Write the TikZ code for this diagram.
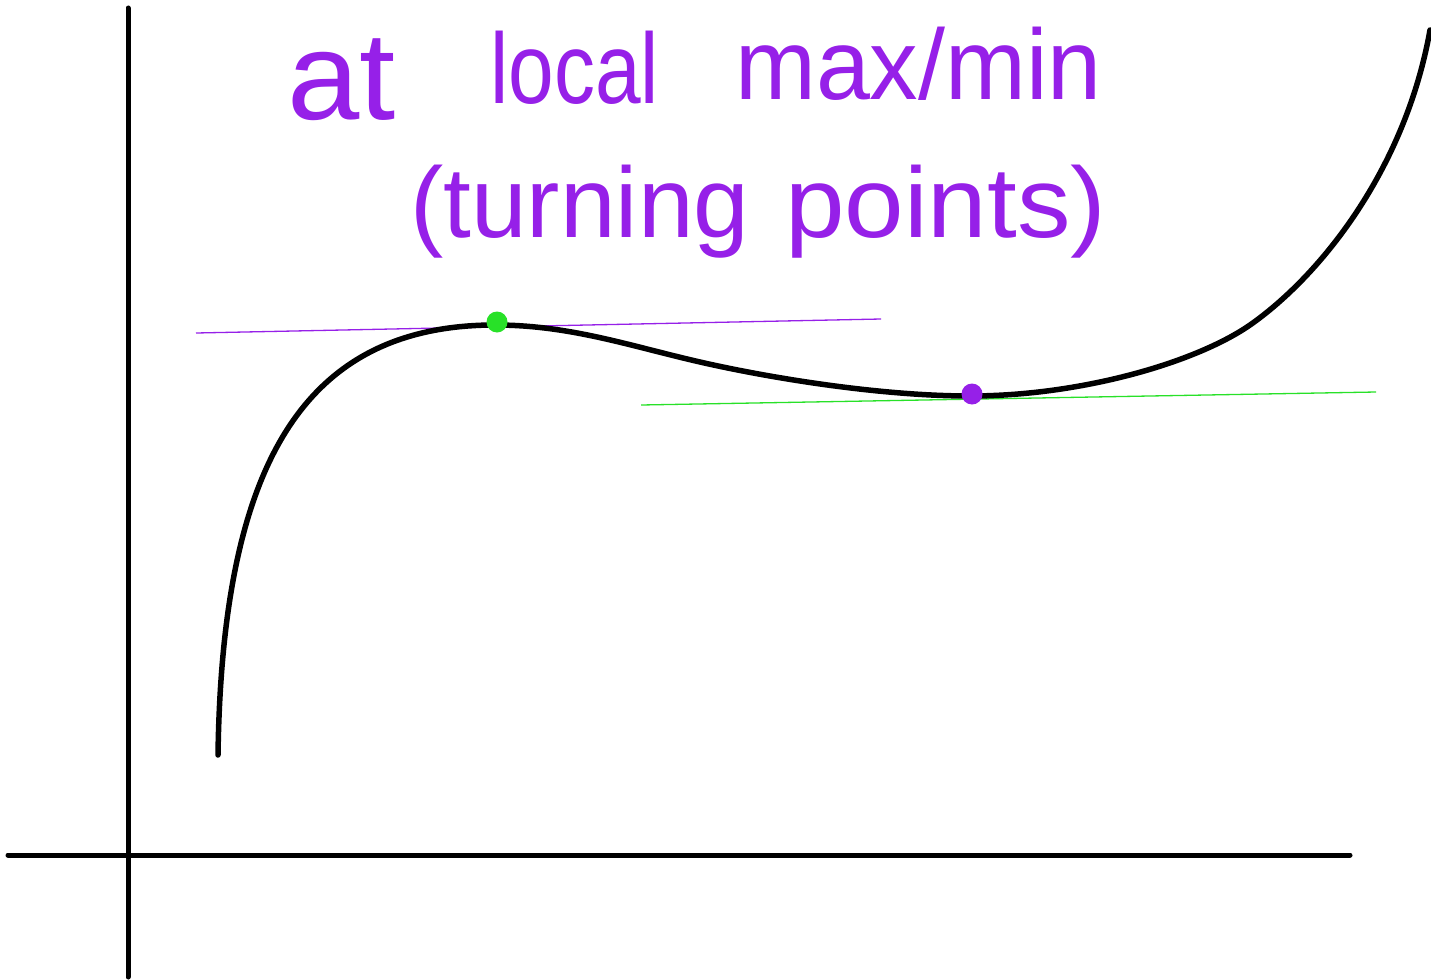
\documentclass[tikz,border=0pt]{standalone}
\usepackage{fontspec}
\newfontfamily\hand{Liberation Sans}
\usepackage{graphicx}
\definecolor{ink}{RGB}{150,32,232}
\definecolor{gr}{RGB}{40,225,40}
\begin{document}
\begin{tikzpicture}[x=1pt,y=-1pt,
  axis/.style={line width=5pt,black,line cap=round},
  curve/.style={line width=5.5pt,black,line cap=round,line join=round},
  tangent/.style={line width=1.3pt},
  word/.style={anchor=base west,inner sep=0pt,text=ink,font=\hand\fontsize{100}{100}\selectfont}]
\useasboundingbox (0,0) rectangle (1431,979);
% axes
\coordinate (ytop) at (128,8);
\coordinate (ybot) at (128,977);
\coordinate (xl) at (8,855);
\coordinate (xr) at (1350,855);
\draw[axis] (ytop) -- (ybot);
\draw[axis] (xl) -- (xr);
% tangent lines
\coordinate (t1a) at (196,333);
\coordinate (t1b) at (881,319);
\coordinate (t2a) at (641,405);
\coordinate (t2b) at (1376,392);
\draw[tangent,ink] (t1a) -- (t1b);
\draw[tangent,gr] (t2a) -- (t2b);
% curve
\coordinate (c0) at (218,755);
\coordinate (cmax) at (495,325);
\coordinate (c1) at (700,362);
\coordinate (cmin) at (970,396);
\coordinate (c2) at (1250,325);
\coordinate (c3) at (1430,30);
\draw[curve] (c0) .. controls (222,470) and (300,325) .. (cmax)
  .. controls (570,325) and (630,346) .. (c1)
  .. controls (770,378) and (880,396) .. (cmin)
  .. controls (1080,396) and (1195,363) .. (c2)
  .. controls (1320,276) and (1405,170) .. (c3);
% points
\node[circle,fill=gr,inner sep=0pt,minimum size=21pt] (maxpt) at (497,322) {};
\node[circle,fill=ink,inner sep=0pt,minimum size=21pt] (minpt) at (972,394) {};
% text
\node[word] (w1) at (287,120) {\scalebox{1.3}[1.25]{at}};
\node[word] (w2) at (490,103) {\scalebox{0.82}[1]{local}};
\node[word] (w3) at (735,100) {\scalebox{0.97}[1]{max/min}};
\node[word] (w4) at (410,237) {\scalebox{1.0}[1]{(turning}};
\node[word] (w5) at (785,237) {\scalebox{1.07}[1]{points)}};
\end{tikzpicture}
\end{document}
